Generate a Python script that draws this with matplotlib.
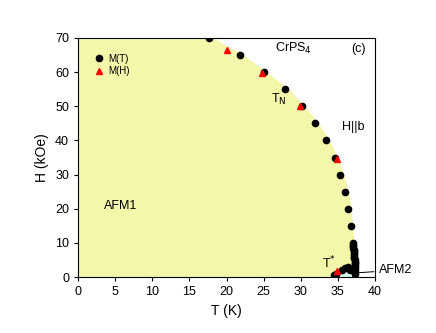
import matplotlib.pyplot as plt
import numpy as np

plt.rcParams['font.family'] = ['Liberation Sans', 'DejaVu Sans']

# M(T) points (black circles)
T_mt = [17.6, 21.8, 25.1, 27.9, 30.2, 31.9, 33.4, 34.6, 35.3, 36.0, 36.4, 36.8, 37.0,
        37.1, 37.1, 37.1, 37.15, 37.15, 37.2, 37.2, 37.2, 37.2, 37.25, 37.25, 37.3, 37.3,
        37.3, 37.3, 37.3, 34.5, 34.8, 35.5, 36.0, 36.4, 36.7]
H_mt = [70, 65, 60, 55, 50, 45, 40, 35, 30, 25, 20, 15, 10,
        9.5, 9, 8.5, 8, 7.5, 7, 6.5, 6, 5.5, 5, 4.5, 4, 3.5,
        3, 2, 1, 0.5, 1.0, 2.0, 2.6, 2.8, 2.2]

# M(H) points (red triangles)
T_mh = [20.1, 24.8, 29.9, 34.9, 34.9]
H_mh = [66.5, 59.8, 50.0, 34.6, 1.8]

# phase boundary (AFM1 / paramagnetic)
H_bd = [70, 65, 60, 55, 50, 45, 40, 35, 30, 25, 20, 15, 10, 5, 0]
T_bd = [18.3, 22.2, 25.5, 28.4, 30.6, 32.4, 33.9, 35.0, 35.8, 36.4, 36.8, 37.0, 37.2, 37.3, 37.3]

# AFM2 pocket
T_afm2 = [33.8, 34.6, 35.5, 36.3, 37.3, 37.3]
H_afm2 = [0, 1.0, 2.0, 2.5, 2.2, 0]

fig = plt.figure(figsize=(4.36, 3.33), dpi=100)
ax = fig.add_axes([0.179, 0.168, 0.681, 0.718])

ax.fill_betweenx(H_bd, 0, T_bd, color='#f4f6aa', lw=0, zorder=1)
ax.fill(T_afm2, H_afm2, color='#d6f5ef', lw=0, zorder=1)

ax.plot(T_mt, H_mt, 'o', color='black', ms=4.5, zorder=3, label='M(T)')
ax.plot(T_mh, H_mh, '^', color='red', ms=5, zorder=4, label='M(H)')

ax.set_xlim(0, 40)
ax.set_ylim(0, 70)
ax.set_xticks(np.arange(0, 41, 5))
ax.set_yticks(np.arange(0, 71, 10))
ax.tick_params(direction='out', length=3, labelsize=9)
ax.set_xlabel('T (K)', fontsize=10)
ax.set_ylabel('H (kOe)', fontsize=10)

ax.text(26.5, 66, r'CrPS$_4$', fontsize=9)
ax.text(38.7, 66, '(c)', fontsize=9, ha='right')
ax.text(26.0, 51, r'T$_{\rm N}$', fontsize=9)
ax.text(35.5, 43, 'H||b', fontsize=9)
ax.text(3.5, 20, 'AFM1', fontsize=9)
ax.text(32.8, 2.5, r'T$^{*}$', fontsize=9)
ax.annotate('AFM2', xy=(37.3, 1.2), xytext=(40.6, 2.0), fontsize=9,
            va='center', annotation_clip=False,
            arrowprops=dict(arrowstyle='-', color='black', lw=0.7))

ax.legend(loc='upper left', fontsize=7, frameon=False, handletextpad=0.3,
          borderaxespad=1.2, labelspacing=0.3, handlelength=1.2)

fig.savefig('out.png', dpi=100)
